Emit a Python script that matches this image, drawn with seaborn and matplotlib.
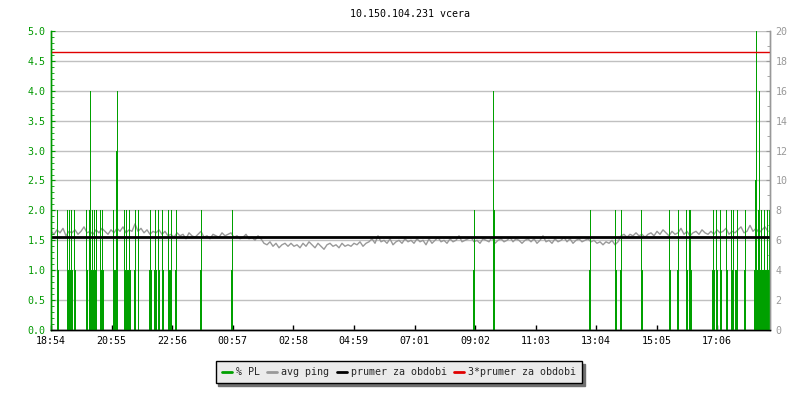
import matplotlib
matplotlib.use("Agg")
import matplotlib.pyplot as plt
import matplotlib.transforms as mtransforms
from matplotlib.lines import Line2D
from matplotlib.ticker import MultipleLocator, FormatStrFormatter
import numpy as np
import seaborn as sns

sns.set_style("white")
plt.rcParams["font.family"] = ["DejaVu Sans Mono"]
plt.rcParams["font.size"] = 7.2

TITLE = "10.150.104.231 vcera"
GREEN = "#00a000"
GREEN_TXT = "#009900"
GREY = "#999999"

# time axis labels, minutes since start (18:54)
tick_labels = ["18:54", "20:55", "22:56", "00:57", "02:58", "04:59",
               "07:01", "09:02", "11:03", "13:04", "15:05", "17:06"]
span_min = 1438

# packet loss (%), by 2-minute slot
pl_slot = [6, 7, 16, 17, 18, 19, 20, 21, 23, 24, 35, 36,
           38, 39, 40, 41, 42, 43, 44, 45, 49, 50, 51, 52,
           62, 63, 64, 65, 66, 73, 74, 75, 76, 77, 78, 79,
           83, 84, 87, 98, 99, 100, 103, 104, 105, 107, 108,
           111, 112, 117, 118, 119, 120, 124, 125, 149, 150,
           180, 181, 422, 423, 442, 443, 538, 539, 564, 565,
           569, 570, 590, 591, 618, 619, 626, 627, 635, 636,
           638, 639, 640, 661, 662, 663, 665, 666, 669, 670,
           675, 676, 680, 681, 682, 684, 685, 686, 693, 694,
           703, 704, 705, 706, 707, 708, 709, 710, 711, 712,
           713, 714, 715, 716, 717, 718, 719]
pl_value = [2, 1, 2, 1, 2, 1, 2, 1, 2, 1, 2, 1,
            2, 4, 1, 2, 1, 2, 1, 2, 2, 1, 2, 1,
            2, 1, 1, 3, 4, 2, 1, 2, 1, 1, 2, 1,
            1, 2, 2, 1, 2, 1, 1, 2, 1, 2, 1,
            2, 1, 2, 1, 1, 2, 1, 2, 1, 2,
            1, 2, 1, 2, 4, 2, 1, 2, 2, 1,
            1, 2, 2, 1, 2, 1, 1, 2, 2, 1,
            2, 2, 1, 1, 2, 1, 2, 1, 2, 1,
            2, 1, 2, 1, 2, 1, 1, 2, 1, 2,
            1, 2.5, 5, 1, 2, 4, 1, 2, 1, 1,
            2, 1, 1, 2, 1, 2, 1]

# average ping (ms), one value per 6 minutes
ping_ms = [
    6.6, 6.4, 6.7, 6.5, 6.8, 6.3, 6.6, 6.5, 6.7, 6.4, 6.6, 6.9, 6.5, 6.6, 6.4, 6.7, 6.5, 6.8, 6.6, 6.4,
    6.7, 6.5, 6.8, 6.6, 6.9, 6.5, 6.7, 6.6, 7.1, 6.6, 6.8, 6.5, 6.7, 6.4, 6.6, 6.5, 6.7, 6.4, 6.6, 6.3,
    6.4, 6.2, 6.5, 6.3, 6.4, 6.1, 6.5, 6.3, 6.2, 6.4, 6.6, 6.2, 6.3, 6.1, 6.4, 6.3, 6.2, 6.5, 6.3, 6.4,
    6.5, 6.2, 6.3, 6.1, 6.2, 6.4, 6.1, 6.2, 6.0, 6.3, 6.1, 5.8, 5.7, 5.9, 5.6, 5.8, 5.5, 5.7, 5.8, 5.6,
    5.8, 5.6, 5.7, 5.5, 5.8, 5.6, 5.9, 5.7, 5.5, 5.8, 5.6, 5.4, 5.7, 5.8, 5.6, 5.7, 5.5, 5.8, 5.6, 5.7,
    5.6, 5.8, 5.7, 5.9, 5.6, 5.8, 5.9, 6.1, 5.8, 6.3, 5.9, 6.0, 5.8, 6.1, 5.7, 5.9, 6.0, 5.8, 6.1, 5.9,
    6.0, 5.8, 6.1, 5.9, 6.0, 5.7, 6.1, 5.8, 6.0, 6.2, 5.9, 6.0, 5.8, 6.1, 5.9, 6.0, 6.3, 5.9, 6.0, 6.1,
    6.2, 5.9, 6.0, 5.8, 6.1, 6.0, 5.9, 6.2, 5.8, 6.0, 6.1, 5.9, 6.0, 6.2, 5.9, 6.1, 6.0, 5.8, 6.0, 6.1,
    5.9, 6.1, 5.8, 6.0, 6.3, 5.9, 6.0, 5.8, 6.1, 5.9, 6.0, 6.2, 5.9, 6.1, 5.8, 6.0, 6.1, 5.9, 6.0, 6.1,
    5.9, 6.0, 5.8, 5.9, 5.7, 5.9, 5.8, 6.0, 5.7, 5.9, 6.3, 6.4, 6.2, 6.4, 6.3, 6.5, 6.3, 6.4, 6.2, 6.4,
    6.5, 6.3, 6.6, 6.4, 6.7, 6.5, 6.3, 6.6, 6.4, 6.5, 6.8, 6.4, 6.6, 6.3, 6.5, 6.6, 6.4, 6.7, 6.5, 6.4,
    6.6, 6.4, 6.7, 6.5, 6.6, 6.8, 6.4, 6.6, 6.5, 6.7, 6.9, 6.5, 6.6, 7.0, 6.6, 6.8, 6.5, 6.7, 6.9, 6.6,
]


def label_minutes(labels):
    start = int(labels[0][:2]) * 60 + int(labels[0][3:])
    out = []
    for lab in labels:
        m = int(lab[:2]) * 60 + int(lab[3:])
        out.append((m - start) % 1440)
    return out


fig = plt.figure(figsize=(8, 4), dpi=100)
ax = fig.add_axes([51 / 800, 70 / 400, 719 / 800, 299 / 400])
ax2 = ax.twinx()

# ping on the bottom layer, right-hand scale
ping_t = np.arange(len(ping_ms)) * 6
sns.lineplot(x=ping_t, y=ping_ms, ax=ax, color=GREY, linewidth=1)
ax.set_ylim(0, 20)
ax.set_xlim(0, span_min)
ax.yaxis.tick_right()
ax.yaxis.set_major_locator(MultipleLocator(2))
ax.yaxis.set_minor_locator(MultipleLocator(1))
ax.grid(axis="y", color="#c0c0c0", linewidth=1)
ax.set_axisbelow(True)

# packet loss bars on top, left-hand scale
ax2.yaxis.tick_left()
ax2.bar(np.array(pl_slot) * 2, pl_value, width=2, align="edge",
        color=GREEN, linewidth=0, antialiased=False)
ax2.set_ylim(0, 5)
ax2.yaxis.set_major_locator(MultipleLocator(0.5))
ax2.yaxis.set_minor_locator(MultipleLocator(0.1))
ax2.yaxis.set_major_formatter(FormatStrFormatter("%.1f"))

# average lines (ping units) drawn above the bars
mean_ping = float(np.mean(ping_ms))
tr = mtransforms.blended_transform_factory(ax2.transAxes, ax.transData)
ax2.plot([0, 1], [mean_ping, mean_ping], transform=tr, color="black", linewidth=2)
ax2.plot([0, 1], [3 * mean_ping, 3 * mean_ping], transform=tr, color="#e00000", linewidth=1)

ax.set_xticks(label_minutes(tick_labels))
ax.set_xticklabels(tick_labels)
ax.tick_params(axis="x", direction="in", length=3.5, width=1, color="black",
               labelcolor="black", pad=4, bottom=True)
ax.tick_params(axis="y", which="both", direction="in", color=GREY,
               labelcolor=GREY, pad=4, right=True, left=False)
ax.tick_params(axis="y", which="major", length=3)
ax.tick_params(axis="y", which="minor", length=2)
ax2.tick_params(axis="y", which="both", direction="in", color=GREEN_TXT,
                labelcolor=GREEN_TXT, pad=4, left=True, right=False)
ax2.tick_params(axis="y", which="major", length=3)
ax2.tick_params(axis="y", which="minor", length=2)

for a in (ax, ax2):
    a.spines["top"].set_visible(False)
    a.spines["left"].set_color(GREEN_TXT)
    a.spines["right"].set_color(GREY)
    a.spines["bottom"].set_color("black")
    for s in a.spines.values():
        s.set_linewidth(1)

fig.text(410 / 800, 1 - 14 / 400, TITLE, ha="center", va="center", color="black")

handles = [Line2D([], [], color=GREEN, linewidth=2),
           Line2D([], [], color=GREY, linewidth=2),
           Line2D([], [], color="black", linewidth=2),
           Line2D([], [], color="#e00000", linewidth=2)]
labels = ["% PL", "avg ping", "prumer za obdobi", "3*prumer za obdobi"]
leg = fig.legend(handles, labels, loc="upper center", bbox_to_anchor=(0.4985, 0.0975),
                 ncol=4, frameon=True, fancybox=False, shadow={"color": "#707070", "alpha": 1},
                 borderaxespad=0, handlelength=1.0, handletextpad=0.4, columnspacing=0.75,
                 borderpad=0.6)
leg.get_frame().set_facecolor("#ebebeb")
leg.get_frame().set_edgecolor("black")
leg.get_frame().set_linewidth(1)
leg.get_frame().set_alpha(1)

fig.savefig("out.png", dpi=100, facecolor="white")
